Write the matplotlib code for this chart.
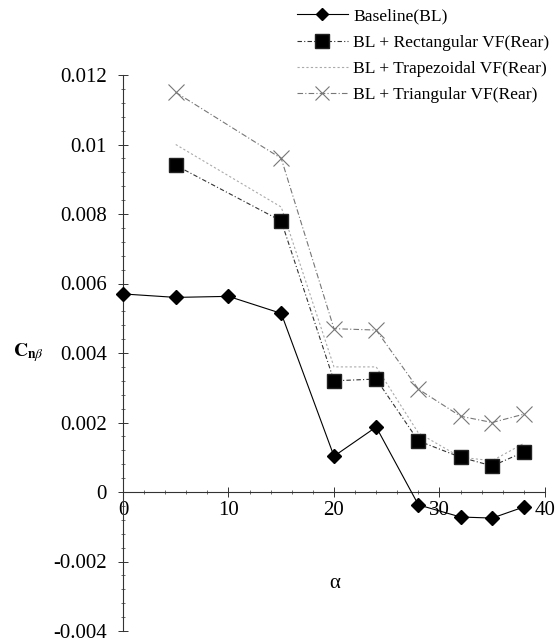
import matplotlib
matplotlib.use('Agg')
import matplotlib.pyplot as plt
from matplotlib.ticker import MultipleLocator, FuncFormatter

plt.rcParams['font.family'] = 'Liberation Serif'
plt.rcParams['mathtext.fontset'] = 'stix'

# Data
alpha = [0, 5, 10, 15, 20, 24, 28, 32, 35, 38]
alpha_vf = [5, 15, 20, 24, 28, 32, 35, 38]
baseline = [0.0057, 0.0056, 0.00563, 0.00514, 0.00103, 0.00187, -0.00037, -0.00072, -0.00075, -0.00043]
rect_vf = [0.0094, 0.0078, 0.0032, 0.00325, 0.00147, 0.0010, 0.00075, 0.00115]
trap_vf = [0.0100, 0.0082, 0.0036, 0.0036, 0.0017, 0.0010, 0.0009, 0.0014]
tri_vf = [0.0115, 0.0096, 0.0047, 0.00466, 0.00296, 0.00218, 0.0020, 0.00224]

labels = ['Baseline(BL)', 'BL + Rectangular VF(Rear)',
          'BL + Trapezoidal VF(Rear)', 'BL + Triangular VF(Rear)']

fig = plt.figure(figsize=(5.56, 6.42), dpi=100)
ax = fig.add_axes([0.2212, 1 - 631 / 642, 0.759, (631 - 75) / 642])

l1, = ax.plot(alpha, baseline, color='black', lw=0.8, marker='D', ms=7,
              mfc='black', mec='black', clip_on=False, zorder=5)
l2, = ax.plot(alpha_vf, rect_vf, color='#333333', lw=0.8, ls=(0, (4, 2, 1, 2)),
              marker='s', ms=10.5, mfc='black', mec='#222222', clip_on=False, zorder=4)
l3, = ax.plot(alpha_vf, trap_vf, color='#aaaaaa', lw=0.8, ls=(0, (2, 2)),
              clip_on=False, zorder=3)
l4, = ax.plot(alpha_vf, tri_vf, color='#777777', lw=0.8, ls=(0, (5, 2, 1, 2)),
              marker='x', ms=11, mew=0.8, mec='#777777', clip_on=False, zorder=3)

ax.set_xlim(0, 40)
ax.set_ylim(-0.004, 0.012)

for s in ['top', 'right']:
    ax.spines[s].set_visible(False)
ax.spines['bottom'].set_position(('data', 0))
ax.spines['left'].set_position(('data', 0))
for s in ['left', 'bottom']:
    ax.spines[s].set_color('#333333')
    ax.spines[s].set_linewidth(0.8)

ax.xaxis.set_major_locator(MultipleLocator(10))
ax.xaxis.set_minor_locator(MultipleLocator(2))
ax.yaxis.set_major_locator(MultipleLocator(0.002))
ax.yaxis.set_minor_locator(MultipleLocator(0.0004))
ax.yaxis.set_major_formatter(FuncFormatter(lambda v, p: '%g' % round(v, 6)))

ax.tick_params(axis='both', which='major', direction='inout', length=7,
               width=0.7, color='#333333', labelsize=15)
ax.tick_params(axis='both', which='minor', direction='inout', length=3,
               width=0.6, color='#555555')
ax.tick_params(axis='y', which='major', pad=8)
ax.tick_params(axis='x', which='major', pad=3)

fig.text(13 / 556, 1 - 353 / 642, r'$\mathbf{C}_{\mathbf{n}\beta}$', fontsize=14,
         ha='left', va='center')
ax.text(0.502, 0.086, 'α', transform=ax.transAxes, fontsize=15,
        ha='center', va='center')

fig.legend([l1, l2, l3, l4], labels, loc='upper left',
           bbox_to_anchor=(297 / 556, 1 - 8 / 642), frameon=False,
           fontsize=12.6, handlelength=2.9, handletextpad=0.3,
           labelspacing=0.58, borderpad=0, borderaxespad=0, markerscale=0.9)

fig.savefig('out.png', dpi=100)
